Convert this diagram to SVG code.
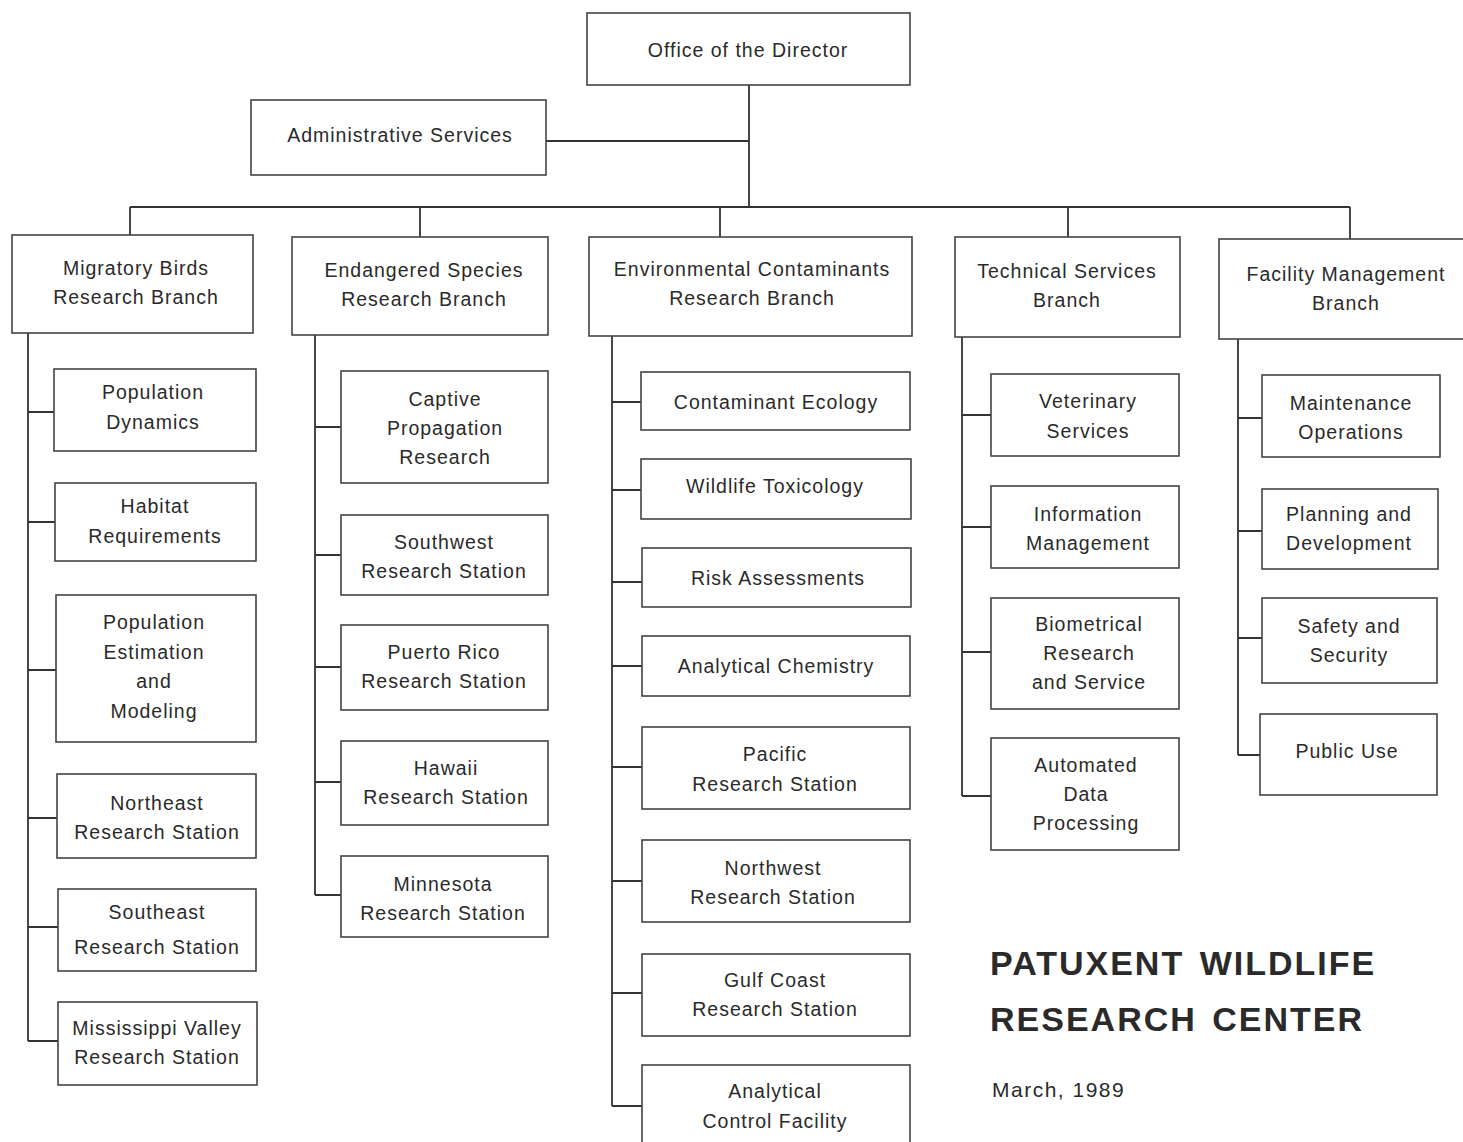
<svg xmlns="http://www.w3.org/2000/svg" width="1463" height="1142" viewBox="0 0 1463 1142">
<style>
.box{fill:#fff;stroke:#444;stroke-width:1.6}
.ln{fill:none;stroke:#333;stroke-width:1.8}
.t{font-family:"Liberation Sans",Arial,sans-serif;font-size:19.5px;fill:#2a2a2a;text-anchor:middle;dominant-baseline:central;letter-spacing:1px}
.title{font-family:"Liberation Sans",Arial,sans-serif;font-size:34px;font-weight:bold;fill:#2a2a2a;letter-spacing:2px;word-spacing:4px}
.date{font-family:"Liberation Sans",Arial,sans-serif;font-size:21px;fill:#2a2a2a;letter-spacing:1.5px}
</style>
<rect width="1463" height="1142" fill="#fff"/>
<g id="connectors">
<path class="ln" d="M749 85V207M546 141H749M130 207H1350M130 207V235M420 207V237M720 207V237M1068 207V237M1350 207V239"/>
<path class="ln" d="M28 333V1041M28 412H54M28 522H55M28 670H56M28 818H57M28 927H58M28 1041H58"/>
<path class="ln" d="M315 335V895M315 427H341M315 555H341M315 667H341M315 782H341M315 895H341"/>
<path class="ln" d="M612 336V1106M612 402H641M612 490H641M612 582H642M612 666H642M612 767H642M612 881H642M612 993H642M612 1106H642"/>
<path class="ln" d="M962 337V796M962 415H991M962 527H991M962 652H991M962 796H991"/>
<path class="ln" d="M1238 339V755M1238 418H1262M1238 531H1262M1238 638H1262M1238 755H1260"/>
</g>
<g id="director"><rect class="box" x="587" y="13" width="323" height="72"/><text class="t" x="748" y="50">Office of the Director</text></g>
<g id="admin"><rect class="box" x="251" y="100" width="295" height="75"/><text class="t" x="400" y="135">Administrative Services</text></g>
<g id="migratory"><rect class="box" x="12" y="235" width="241" height="98"/><text class="t" x="136" y="268">Migratory Birds</text><text class="t" x="136" y="297">Research Branch</text></g>
<g id="endangered"><rect class="box" x="292" y="237" width="256" height="98"/><text class="t" x="424" y="270">Endangered Species</text><text class="t" x="424" y="299">Research Branch</text></g>
<g id="environmental"><rect class="box" x="589" y="237" width="323" height="99"/><text class="t" x="752" y="269">Environmental Contaminants</text><text class="t" x="752" y="298">Research Branch</text></g>
<g id="technical"><rect class="box" x="955" y="237" width="225" height="100"/><text class="t" x="1067" y="271">Technical Services</text><text class="t" x="1067" y="300">Branch</text></g>
<g id="facility"><rect class="box" x="1219" y="239" width="250" height="100"/><text class="t" x="1346" y="274">Facility Management</text><text class="t" x="1346" y="303">Branch</text></g>

<g id="popdyn"><rect class="box" x="54" y="369" width="202" height="82"/><text class="t" x="153" y="392">Population</text><text class="t" x="153" y="422">Dynamics</text></g>
<g id="habitat"><rect class="box" x="55" y="483" width="201" height="78"/><text class="t" x="155" y="506">Habitat</text><text class="t" x="155" y="536">Requirements</text></g>
<g id="popest"><rect class="box" x="56" y="595" width="200" height="147"/><text class="t" x="154" y="622">Population</text><text class="t" x="154" y="652">Estimation</text><text class="t" x="154" y="681">and</text><text class="t" x="154" y="711">Modeling</text></g>
<g id="northeast"><rect class="box" x="57" y="774" width="199" height="84"/><text class="t" x="157" y="803">Northeast</text><text class="t" x="157" y="832">Research Station</text></g>
<g id="southeast"><rect class="box" x="58" y="889" width="198" height="82"/><text class="t" x="157" y="912">Southeast</text><text class="t" x="157" y="947">Research Station</text></g>
<g id="mississippi"><rect class="box" x="58" y="1002" width="199" height="83"/><text class="t" x="157" y="1028">Mississippi Valley</text><text class="t" x="157" y="1057">Research Station</text></g>

<g id="captive"><rect class="box" x="341" y="371" width="207" height="112"/><text class="t" x="445" y="399">Captive</text><text class="t" x="445" y="428">Propagation</text><text class="t" x="445" y="457">Research</text></g>
<g id="southwest"><rect class="box" x="341" y="515" width="207" height="80"/><text class="t" x="444" y="542">Southwest</text><text class="t" x="444" y="571">Research Station</text></g>
<g id="puertorico"><rect class="box" x="341" y="625" width="207" height="85"/><text class="t" x="444" y="652">Puerto Rico</text><text class="t" x="444" y="681">Research Station</text></g>
<g id="hawaii"><rect class="box" x="341" y="741" width="207" height="84"/><text class="t" x="446" y="768">Hawaii</text><text class="t" x="446" y="797">Research Station</text></g>
<g id="minnesota"><rect class="box" x="341" y="856" width="207" height="81"/><text class="t" x="443" y="884">Minnesota</text><text class="t" x="443" y="913">Research Station</text></g>

<g id="contameco"><rect class="box" x="641" y="372" width="269" height="58"/><text class="t" x="776" y="402">Contaminant Ecology</text></g>
<g id="wildtox"><rect class="box" x="641" y="459" width="270" height="60"/><text class="t" x="775" y="486">Wildlife Toxicology</text></g>
<g id="risk"><rect class="box" x="642" y="548" width="269" height="59"/><text class="t" x="778" y="578">Risk Assessments</text></g>
<g id="anchem"><rect class="box" x="642" y="636" width="268" height="60"/><text class="t" x="776" y="666">Analytical Chemistry</text></g>
<g id="pacific"><rect class="box" x="642" y="727" width="268" height="82"/><text class="t" x="775" y="754">Pacific</text><text class="t" x="775" y="784">Research Station</text></g>
<g id="northwest"><rect class="box" x="642" y="840" width="268" height="82"/><text class="t" x="773" y="868">Northwest</text><text class="t" x="773" y="897">Research Station</text></g>
<g id="gulfcoast"><rect class="box" x="642" y="954" width="268" height="82"/><text class="t" x="775" y="980">Gulf Coast</text><text class="t" x="775" y="1009">Research Station</text></g>
<g id="ancontrol"><rect class="box" x="642" y="1065" width="268" height="90"/><text class="t" x="775" y="1091">Analytical</text><text class="t" x="775" y="1121">Control Facility</text></g>

<g id="veterinary"><rect class="box" x="991" y="374" width="188" height="82"/><text class="t" x="1088" y="401">Veterinary</text><text class="t" x="1088" y="431">Services</text></g>
<g id="infomgmt"><rect class="box" x="991" y="486" width="188" height="82"/><text class="t" x="1088" y="514">Information</text><text class="t" x="1088" y="543">Management</text></g>
<g id="biometrical"><rect class="box" x="991" y="598" width="188" height="111"/><text class="t" x="1089" y="624">Biometrical</text><text class="t" x="1089" y="653">Research</text><text class="t" x="1089" y="682">and Service</text></g>
<g id="automated"><rect class="box" x="991" y="738" width="188" height="112"/><text class="t" x="1086" y="765">Automated</text><text class="t" x="1086" y="794">Data</text><text class="t" x="1086" y="823">Processing</text></g>

<g id="maintenance"><rect class="box" x="1262" y="375" width="178" height="82"/><text class="t" x="1351" y="403">Maintenance</text><text class="t" x="1351" y="432">Operations</text></g>
<g id="planning"><rect class="box" x="1262" y="489" width="176" height="80"/><text class="t" x="1349" y="514">Planning and</text><text class="t" x="1349" y="543">Development</text></g>
<g id="safety"><rect class="box" x="1262" y="598" width="175" height="85"/><text class="t" x="1349" y="626">Safety and</text><text class="t" x="1349" y="655">Security</text></g>
<g id="publicuse"><rect class="box" x="1260" y="714" width="177" height="81"/><text class="t" x="1347" y="751">Public Use</text></g>

<g id="title">
<text class="title" x="990" y="975">PATUXENT WILDLIFE</text>
<text class="title" x="990" y="1031">RESEARCH CENTER</text>
<text class="date" x="992" y="1097">March, 1989</text>
</g>
</svg>
